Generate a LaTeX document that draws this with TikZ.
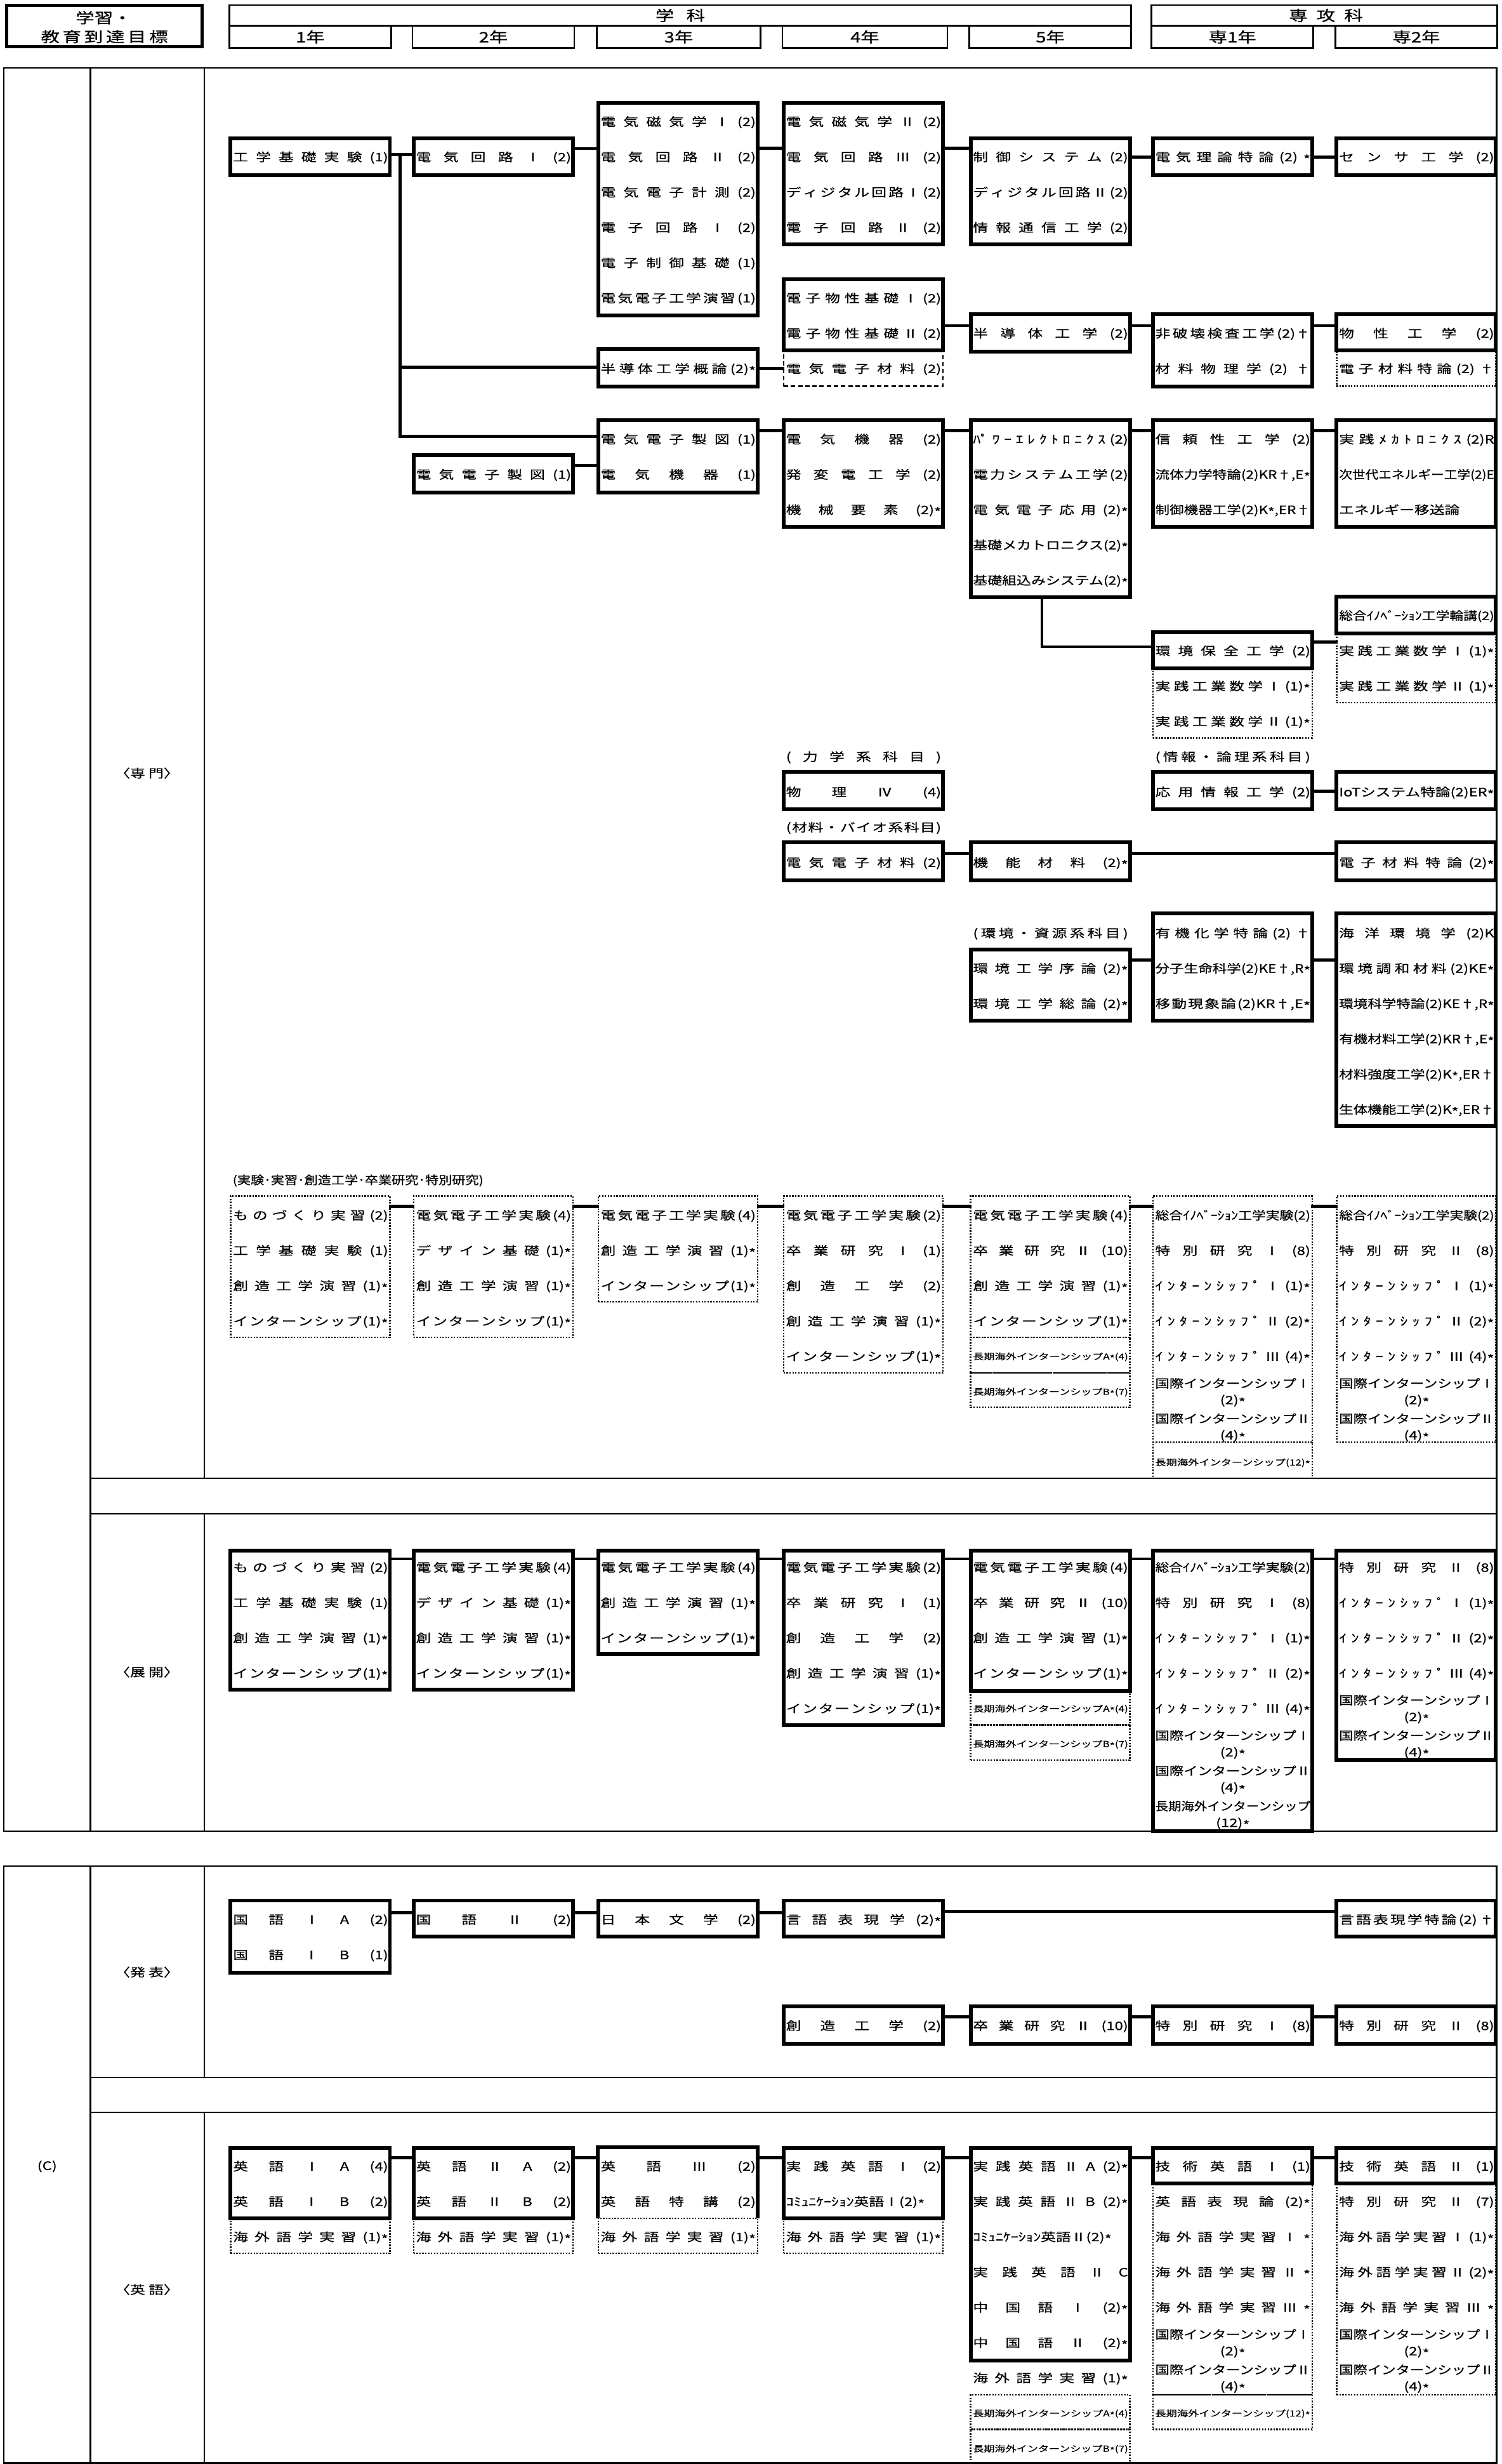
\documentclass[tikz,border=0pt]{standalone}
\usepackage{fontspec}
\usepackage{graphicx}
\setmainfont{Noto Sans CJK JP}[FakeStretch=1.3,FakeBold=0.6]
\usetikzlibrary{fit}
\newlength\labw
\setlength\labw{140.5pt}
\newcommand\bodyfont{\fontsize{10.5pt}{12pt}\selectfont}
\newcommand\hdrfont{\fontsize{13pt}{15pt}\selectfont}
\newcommand\fitto[2]{{\frenchspacing\spaceskip=0pt plus 1fil\relax\xspaceskip=0pt plus 1fil\relax
  \setbox0=\hbox{#2}\ifdim\wd0>#1\relax\resizebox{#1}{\height}{\copy0}\else\hbox to #1{#2}\fi}}
\newcommand\fitlab[1]{\fitto{\labw}{#1}}
\newcommand\Ln[1]{\hbox{\fitlab{#1}}}
\newcommand\Ls[1]{\hbox{\raisebox{1pt}{\fontsize{7.6pt}{9pt}\selectfont\fitlab{#1}}}}
\newcommand\Lt[2]{\hbox{\rlap{\raisebox{7.5pt}{\fitlab{#1}}}\raisebox{-7.5pt}{\hbox to \labw{\hfil #2\hfil}}}}
\newcommand\Rows[1]{\vtop{\baselineskip=31.94pt\lineskiplimit=-16000pt\lineskip=0pt\relax #1}}
\newcommand\CB[7]{\node[#1, fit={(#3+0.8,#4) (#3+102.2,#5)}] (#2) {};
  \node[txt] (#2t) at (#3+2.2,#6+2.8) {\Rows{#7}};}
\newcommand\HC[3]{\coordinate (hcy) at (0,#3); \draw[conn] (#1.east |- hcy) -- (#2.west |- hcy);}
\begingroup\catcode`\*=\active \gdef*{\raisebox{-0.38ex}{\char42}}\endgroup
\begin{document}
\catcode`\*=\active
\begin{tikzpicture}[x=0.05cm,y=-0.05cm,
  every node/.style={font=\bodyfont},
  sb/.style={draw, line width=3.4pt, inner sep=0pt},
  db/.style={draw, line width=1.3pt, dash pattern=on 1.3pt off 1.3pt, inner sep=0pt},
  dsb/.style={draw, line width=1.5pt, dash pattern=on 4pt off 2.5pt, inner sep=0pt},
  nb/.style={inner sep=0pt},
  hb/.style={draw, line width=1.6pt, inner sep=0pt},
  sbline/.style={line width=3.4pt},
  conn/.style={line width=2.8pt, line cap=rect},
  frm/.style={line width=1.4pt},
  txt/.style={inner sep=0pt, anchor=base west}]
\fill[white] (0,0) rectangle (956,1568);
\useasboundingbox (0,0) rectangle (956,1568);

% ---------------- header
\node[draw, line width=2.8pt, inner sep=0pt, fit={(4.2,3.6) (128.8,29.8)}] (goal) {};
\node[font=\hdrfont] (goalA) at (66,11.3) {学習・};
\node[font=\hdrfont] (goalB) at (66.5,23.3) {\fitto{115pt}{教 育 到 達 目 標}};
\node[hb, fit={(146,3.2) (720,16.5)}] (gk) {};
\node[font=\hdrfont] (gkt) at (433,9.8) {\fitto{45pt}{学 科}};
\node[hb, fit={(733,3.2) (953,16.5)}] (sk) {};
\node[font=\hdrfont] (skt) at (844,9.8) {\fitto{67pt}{専 攻 科}};
\node[hb, fit={(146,16.5) (249,30.5)}] (y1) {};
\node[hb, fit={(262.5,16.5) (365.5,30.5)}] (y2) {};
\node[hb, fit={(380,16.5) (484,30.5)}] (y3) {};
\node[hb, fit={(498,16.5) (603,30.5)}] (y4) {};
\node[hb, fit={(617,16.5) (720,30.5)}] (y5) {};
\node[hb, fit={(733,16.5) (836,30.5)}] (y6) {};
\node[hb, fit={(850,16.5) (953,30.5)}] (y7) {};
\node[font=\hdrfont] (y1t) at (y1) {1年};
\node[font=\hdrfont] (y2t) at (y2) {2年};
\node[font=\hdrfont] (y3t) at (y3) {3年};
\node[font=\hdrfont] (y4t) at (y4) {4年};
\node[font=\hdrfont] (y5t) at (y5) {5年};
\node[font=\hdrfont] (y6t) at (y6) {専1年};
\node[font=\hdrfont] (y7t) at (y7) {専2年};

% ---------------- frames
\draw[frm] (2.5,43.3) rectangle (952.7,1165.3);
\draw[frm] (57.5,43.3) -- (57.5,1165.3);
\draw[frm] (130,43.3) -- (130,940.6);
\draw[frm] (130,963.3) -- (130,1165.3);
\draw[frm] (57.5,940.6) -- (952.7,940.6);
\draw[frm] (57.5,963.3) -- (952.7,963.3);
\draw[frm] (2.5,1187.4) rectangle (952.7,1567.4);
\draw[frm] (57.5,1187.4) -- (57.5,1567.4);
\draw[frm] (130,1187.4) -- (130,1322);
\draw[frm] (130,1344.3) -- (130,1567.4);
\draw[frm] (57.5,1322) -- (952.7,1322);
\draw[frm] (57.5,1344.3) -- (952.7,1344.3);

\node (lsen) at (93.5,492) {〈専 門〉};
\node (lten) at (93.5,1064) {〈展 開〉};
\node (lhap) at (93.5,1255) {〈発 表〉};
\node (leig) at (93.5,1457) {〈英 語〉};
\node (lc) at (30,1378.6) {(C)};

% ---------------- 専門: main chain
\CB{sb}{A1}{146}{88}{111.4}{99.85}{\Ln{工 学 基 礎 実 験 (1)}}
\CB{sb}{A2}{262.5}{88}{111.4}{99.85}{\Ln{電 気 回 路 Ⅰ (2)}}
\CB{sb}{A3}{380}{65.5}{200.7}{77.4}{\Ln{電 気 磁 気 学 Ⅰ (2)}\Ln{電 気 回 路 Ⅱ (2)}\Ln{電 気 電 子 計 測 (2)}\Ln{電 子 回 路 Ⅰ (2)}\Ln{電 子 制 御 基 礎 (1)}\Ln{電 気 電 子 工 学 演 習 (1)}}
\CB{sb}{A4}{498}{65.5}{155.6}{77.4}{\Ln{電 気 磁 気 学 Ⅱ (2)}\Ln{電 気 回 路 Ⅲ (2)}\Ln{デ ィ ジ タ ル 回 路 Ⅰ (2)}\Ln{電 子 回 路 Ⅱ (2)}}
\CB{sb}{A5}{617}{88}{155.6}{99.85}{\Ln{制 御 シ ス テ ム (2)}\Ln{デ ィ ジ タ ル 回 路 Ⅱ (2)}\Ln{情 報 通 信 工 学 (2)}}
\CB{sb}{A6}{733}{88}{111.4}{99.85}{\Ln{電 気 理 論 特 論 (2) *}}
\CB{sb}{A7}{850}{88}{111.4}{99.85}{\Ln{セ ン サ 工 学 (2)}}

\CB{sb}{B3}{380}{222}{245.8}{234.55}{\Ln{半 導 体 工 学 概 論 (2)*}}
\CB{dsb}{B4d}{498}{222.8}{245.8}{234.55}{\Ln{電 気 電 子 材 料 (2)}}
\CB{sb}{B4}{498}{177.7}{222.8}{189.65}{\Ln{電 子 物 性 基 礎 Ⅰ (2)}\Ln{電 子 物 性 基 礎 Ⅱ (2)}}
\CB{sb}{B5}{617}{199.8}{223.6}{212.1}{\Ln{半 導 体 工 学 (2)}}
\CB{sb}{B6}{733}{199.8}{245.8}{212.1}{\Ln{非 破 壊 検 査 工 学 (2)†}\Ln{材 料 物 理 学 (2) †}}
\CB{db}{B7d}{850}{222.8}{245.8}{234.55}{\Ln{電 子 材 料 特 論 (2) †}}
\CB{sb}{B7}{850}{199.8}{222.8}{212.1}{\Ln{物 性 工 学 (2)}}

\CB{sb}{C2}{262.5}{289.7}{313.3}{301.9}{\Ln{電 気 電 子 製 図 (1)}}
\CB{sb}{C3}{380}{267.4}{313.3}{279.45}{\Ln{電 気 電 子 製 図 (1)}\Ln{電 気 機 器 (1)}}
\CB{sb}{C4}{498}{267.4}{335.4}{279.45}{\Ln{電 気 機 器 (2)}\Ln{発 変 電 工 学 (2)}\Ln{機 械 要 素 (2)*}}
\CB{sb}{C5}{617}{267.4}{380.2}{279.45}{\Ln{ﾊﾟ ﾜ ｰ ｴ ﾚ ｸ ﾄ ﾛ ﾆ ｸ ｽ (2)}\Ln{電 力 シ ス テ ム 工 学 (2)}\Ln{電 気 電 子 応 用 (2)*}\Ln{基礎メカトロニクス(2)*}\Ln{基礎組込みシステム(2)*}}
\CB{sb}{C6}{733}{267.4}{335.4}{279.45}{\Ln{信 頼 性 工 学 (2)}\Ln{流体力学特論(2)KR†,E*}\Ln{制御機器工学(2)K*,ER†}}
\CB{sb}{C7}{850}{267.4}{335.4}{279.45}{\Ln{実 践 ﾒ ｶ ﾄ ﾛ ﾆ ｸ ｽ (2)R}\Ln{次世代エネルギー工学(2)E}\Ln{エネルギー移送論}}

\CB{db}{D6d}{733}{425.3}{469.5}{436.6}{\Ln{実 践 工 業 数 学 Ⅰ (1)*}\Ln{実 践 工 業 数 学 Ⅱ (1)*}}
\CB{sb}{D6}{733}{402.3}{425.3}{414.15}{\Ln{環 境 保 全 工 学 (2)}}
\CB{db}{D7d}{850}{403.2}{447}{414.15}{\Ln{実 践 工 業 数 学 Ⅰ (1)*}\Ln{実 践 工 業 数 学 Ⅱ (1)*}}
\CB{sb}{D7}{850}{379.7}{403.2}{391.7}{\Ln{総合ｲﾉﾍﾞｰｼｮﾝ工学輪講(2)}}

\node[txt] (L1) at (500.2,484.3) {\fitlab{( 力 学 系 科 目 )}};
\CB{sb}{E4}{498}{491.2}{515}{503.95}{\Ln{物 理 Ⅳ (4)}}
\node[txt] (L2) at (735.2,484.3) {\fitlab{( 情 報 ・ 論 理 系 科 目 )}};
\CB{sb}{E6}{733}{491.2}{515}{503.95}{\Ln{応 用 情 報 工 学 (2)}}
\CB{sb}{E7}{850}{491.2}{515}{503.95}{\Ln{IoTシステム特論(2)ER*}}
\node[txt] (L3) at (500.2,529.2) {\fitlab{( 材 料 ・ バ イ オ 系 科 目 )}};
\CB{sb}{F4}{498}{536.1}{560.2}{548.85}{\Ln{電 気 電 子 材 料 (2)}}
\CB{sb}{F5}{617}{536.1}{560.2}{548.85}{\Ln{機 能 材 料 (2)*}}
\CB{sb}{F7}{850}{536.1}{560.2}{548.85}{\Ln{電 子 材 料 特 論 (2)*}}
\node[txt] (L4) at (619.2,596.55) {\fitlab{( 環 境 ・ 資 源 系 科 目 )}};
\CB{sb}{G5}{617}{604.2}{649.5}{616.2}{\Ln{環 境 工 学 序 論 (2)*}\Ln{環 境 工 学 総 論 (2)*}}
\CB{sb}{G6}{733}{581.4}{649.5}{593.75}{\Ln{有 機 化 学 特 論 (2) †}\Ln{分子生命科学(2)KE†,R*}\Ln{移 動 現 象 論 (2)KR†,E*}}
\CB{sb}{G7}{850}{581.4}{716.5}{593.75}{\Ln{海 洋 環 境 学 (2)K}\Ln{環 境 調 和 材 料 (2)KE*}\Ln{環境科学特論(2)KE†,R*}\Ln{有機材料工学(2)KR†,E*}\Ln{材料強度工学(2)K*,ER†}\Ln{生体機能工学(2)K*,ER†}}

\node[txt] (L5) at (148,753.65) {\fitto{227pt}{(実験･実習･創造工学･卒業研究･特別研究)}};

% ---------------- 専門: experiments (dotted)
\CB{db}{X1}{146}{761.2}{851}{773.3}{\Ln{も の づ く り 実 習 (2)}\Ln{工 学 基 礎 実 験 (1)}\Ln{創 造 工 学 演 習 (1)*}\Ln{イ ン タ ー ン シ ッ プ (1)*}}
\CB{db}{X2}{262.5}{761.2}{851}{773.3}{\Ln{電 気 電 子 工 学 実 験 (4)}\Ln{デ ザ イ ン 基 礎 (1)*}\Ln{創 造 工 学 演 習 (1)*}\Ln{イ ン タ ー ン シ ッ プ (1)*}}
\CB{db}{X3}{380}{761.2}{828.5}{773.3}{\Ln{電 気 電 子 工 学 実 験 (4)}\Ln{創 造 工 学 演 習 (1)*}\Ln{イ ン タ ー ン シ ッ プ (1)*}}
\CB{db}{X4}{498}{761.2}{873.6}{773.3}{\Ln{電 気 電 子 工 学 実 験 (2)}\Ln{卒 業 研 究 Ⅰ (1)}\Ln{創 造 工 学 (2)}\Ln{創 造 工 学 演 習 (1)*}\Ln{イ ン タ ー ン シ ッ プ (1)*}}
\CB{db}{X5}{617}{761.2}{851}{773.3}{\Ln{電 気 電 子 工 学 実 験 (4)}\Ln{卒 業 研 究 Ⅱ (10)}\Ln{創 造 工 学 演 習 (1)*}\Ln{イ ン タ ー ン シ ッ プ (1)*}}
\CB{db}{X5a}{617}{851}{873.6}{863.1}{\Ls{長期海外インターンシップA*(4)}}
\CB{db}{X5b}{617}{873.6}{895.6}{885.55}{\Ls{長期海外インターンシップB*(7)}}
\CB{db}{X6}{733}{761.2}{917.8}{773.3}{\Ln{総合ｲﾉﾍﾞｰｼｮﾝ工学実験(2)}\Ln{特 別 研 究 Ⅰ (8)}\Ln{ｲ ﾝ ﾀ ｰ ﾝ ｼ ｯ ﾌ ﾟ Ⅰ (1)*}\Ln{ｲ ﾝ ﾀ ｰ ﾝ ｼ ｯ ﾌ ﾟ Ⅱ (2)*}\Ln{ｲ ﾝ ﾀ ｰ ﾝ ｼ ｯ ﾌ ﾟ Ⅲ (4)*}\Lt{国際インターンシップⅠ}{(2)*}\Lt{国際インターンシップⅡ}{(4)*}}
\CB{db}{X6a}{733}{917.8}{940.6}{930.45}{\Ls{長期海外インターンシップ(12)*}}
\CB{db}{X7}{850}{761.2}{917.8}{773.3}{\Ln{総合ｲﾉﾍﾞｰｼｮﾝ工学実験(2)}\Ln{特 別 研 究 Ⅱ (8)}\Ln{ｲ ﾝ ﾀ ｰ ﾝ ｼ ｯ ﾌ ﾟ Ⅰ (1)*}\Ln{ｲ ﾝ ﾀ ｰ ﾝ ｼ ｯ ﾌ ﾟ Ⅱ (2)*}\Ln{ｲ ﾝ ﾀ ｰ ﾝ ｼ ｯ ﾌ ﾟ Ⅲ (4)*}\Lt{国際インターンシップⅠ}{(2)*}\Lt{国際インターンシップⅡ}{(4)*}}

% ---------------- 展開
\CB{sb}{Y1}{146}{986.6}{1075.2}{997.4}{\Ln{も の づ く り 実 習 (2)}\Ln{工 学 基 礎 実 験 (1)}\Ln{創 造 工 学 演 習 (1)*}\Ln{イ ン タ ー ン シ ッ プ (1)*}}
\CB{sb}{Y2}{262.5}{986.6}{1075.2}{997.4}{\Ln{電 気 電 子 工 学 実 験 (4)}\Ln{デ ザ イ ン 基 礎 (1)*}\Ln{創 造 工 学 演 習 (1)*}\Ln{イ ン タ ー ン シ ッ プ (1)*}}
\CB{sb}{Y3}{380}{986.6}{1052.7}{997.4}{\Ln{電 気 電 子 工 学 実 験 (4)}\Ln{創 造 工 学 演 習 (1)*}\Ln{イ ン タ ー ン シ ッ プ (1)*}}
\CB{sb}{Y4}{498}{986.6}{1098}{997.4}{\Ln{電 気 電 子 工 学 実 験 (2)}\Ln{卒 業 研 究 Ⅰ (1)}\Ln{創 造 工 学 (2)}\Ln{創 造 工 学 演 習 (1)*}\Ln{イ ン タ ー ン シ ッ プ (1)*}}
\CB{db}{Y5a}{617}{1076}{1097.6}{1087.2}{\Ls{長期海外インターンシップA*(4)}}
\CB{db}{Y5b}{617}{1097.6}{1120}{1109.65}{\Ls{長期海外インターンシップB*(7)}}
\CB{sb}{Y5}{617}{986.6}{1076}{997.4}{\Ln{電 気 電 子 工 学 実 験 (4)}\Ln{卒 業 研 究 Ⅱ (10)}\Ln{創 造 工 学 演 習 (1)*}\Ln{イ ン タ ー ン シ ッ プ (1)*}}
\CB{sb}{Y6}{733}{986.6}{1165.3}{997.4}{\Ln{総合ｲﾉﾍﾞｰｼｮﾝ工学実験(2)}\Ln{特 別 研 究 Ⅰ (8)}\Ln{ｲ ﾝ ﾀ ｰ ﾝ ｼ ｯ ﾌ ﾟ Ⅰ (1)*}\Ln{ｲ ﾝ ﾀ ｰ ﾝ ｼ ｯ ﾌ ﾟ Ⅱ (2)*}\Ln{ｲ ﾝ ﾀ ｰ ﾝ ｼ ｯ ﾌ ﾟ Ⅲ (4)*}\Lt{国際インターンシップⅠ}{(2)*}\Lt{国際インターンシップⅡ}{(4)*}\Lt{長期海外インターンシップ}{(12)*}}
\CB{sb}{Y7}{850}{986.6}{1120}{997.4}{\Ln{特 別 研 究 Ⅱ (8)}\Ln{ｲ ﾝ ﾀ ｰ ﾝ ｼ ｯ ﾌ ﾟ Ⅰ (1)*}\Ln{ｲ ﾝ ﾀ ｰ ﾝ ｼ ｯ ﾌ ﾟ Ⅱ (2)*}\Ln{ｲ ﾝ ﾀ ｰ ﾝ ｼ ｯ ﾌ ﾟ Ⅲ (4)*}\Lt{国際インターンシップⅠ}{(2)*}\Lt{国際インターンシップⅡ}{(4)*}}

% ---------------- 発表
\CB{sb}{P1}{146}{1209.5}{1255.4}{1221.5}{\Ln{国 語 Ⅰ A (2)}\Ln{国 語 Ⅰ B (1)}}
\CB{sb}{P2}{262.5}{1209.5}{1232.5}{1221.5}{\Ln{国 語 Ⅱ (2)}}
\CB{sb}{P3}{380}{1209.5}{1232.5}{1221.5}{\Ln{日 本 文 学 (2)}}
\CB{sb}{P4}{498}{1209.5}{1232.5}{1221.5}{\Ln{言 語 表 現 学 (2)*}}
\CB{sb}{P7}{850}{1209.5}{1232.5}{1221.5}{\Ln{言 語 表 現 学 特 論 (2) †}}
\CB{sb}{Q4}{498}{1276.8}{1300.5}{1289}{\Ln{創 造 工 学 (2)}}
\CB{sb}{Q5}{617}{1276.8}{1300.5}{1289}{\Ln{卒 業 研 究 Ⅱ (10)}}
\CB{sb}{Q6}{733}{1276.8}{1300.5}{1289}{\Ln{特 別 研 究 Ⅰ (8)}}
\CB{sb}{Q7}{850}{1276.8}{1300.5}{1289}{\Ln{特 別 研 究 Ⅱ (8)}}

% ---------------- 英語
\CB{db}{Z1d}{146}{1411.6}{1433.9}{1423.4}{\Ln{海 外 語 学 実 習 (1)*}}
\CB{sb}{Z1}{146}{1366.7}{1411.6}{1378.5}{\Ln{英 語 Ⅰ A (4)}\Ln{英 語 Ⅰ B (2)}}
\CB{db}{Z2d}{262.5}{1411.6}{1433.9}{1423.4}{\Ln{海 外 語 学 実 習 (1)*}}
\CB{sb}{Z2}{262.5}{1366.7}{1411.6}{1378.5}{\Ln{英 語 Ⅱ A (2)}\Ln{英 語 Ⅱ B (2)}}
\CB{db}{Z3d}{380}{1411.6}{1433.9}{1423.4}{\Ln{海 外 語 学 実 習 (1)*}}
\CB{nb}{Z3}{380}{1366.7}{1411.6}{1378.5}{\Ln{英 語 Ⅲ (2)}\Ln{英 語 特 講 (2)}}
\draw[sbline] (Z3.south west) -- (Z3.north west) -- (Z3.north east) -- (Z3.south east);
\CB{db}{Z4d}{498}{1411.6}{1433.9}{1423.4}{\Ln{海 外 語 学 実 習 (1)*}}
\CB{sb}{Z4}{498}{1366.7}{1411.6}{1378.5}{\Ln{実 践 英 語 Ⅰ (2)}\Ln{ｺﾐｭﾆｹｰｼｮﾝ英語Ⅰ(2)*}}
\CB{sb}{Z5}{617}{1366.7}{1502}{1378.5}{\Ln{実 践 英 語 Ⅱ A (2)*}\Ln{実 践 英 語 Ⅱ B (2)*}\Ln{ｺﾐｭﾆｹｰｼｮﾝ英語Ⅱ(2)*}\Ln{実 践 英 語 Ⅱ C}\Ln{中 国 語 Ⅰ (2)*}\Ln{中 国 語 Ⅱ (2)*}}
\node[txt] (Z5x) at (619.2,1516) {\fitlab{海 外 語 学 実 習 (1)*}};
\CB{db}{Z5a}{617}{1524}{1546}{1535.65}{\Ls{長期海外インターンシップA*(4)}}
\CB{db}{Z5b}{617}{1546}{1567.5}{1558.1}{\Ls{長期海外インターンシップB*(7)}}
\CB{db}{Z6d}{733}{1389.3}{1524}{1400.95}{\Ln{英 語 表 現 論 (2)*}\Ln{海 外 語 学 実 習 Ⅰ *}\Ln{海 外 語 学 実 習 Ⅱ *}\Ln{海 外 語 学 実 習 Ⅲ *}\Lt{国際インターンシップⅠ}{(2)*}\Lt{国際インターンシップⅡ}{(4)*}}
\CB{db}{Z6a}{733}{1524}{1546}{1535.65}{\Ls{長期海外インターンシップ(12)*}}
\CB{sb}{Z6}{733}{1366.7}{1389.3}{1378.5}{\Ln{技 術 英 語 Ⅰ (1)}}
\CB{db}{Z7d}{850}{1389.3}{1524}{1400.95}{\Ln{特 別 研 究 Ⅱ (7)}\Ln{海 外 語 学 実 習 Ⅰ (1)*}\Ln{海 外 語 学 実 習 Ⅱ (2)*}\Ln{海 外 語 学 実 習 Ⅲ *}\Lt{国際インターンシップⅠ}{(2)*}\Lt{国際インターンシップⅡ}{(4)*}}
\CB{sb}{Z7}{850}{1366.7}{1389.3}{1378.5}{\Ln{技 術 英 語 Ⅱ (1)}}

% ---------------- connectors
\HC{A1}{A2}{98.5}
\HC{A2}{A3}{94.5}
\HC{A3}{A4}{94.4}
\HC{A4}{A5}{94.4}
\HC{A5}{A6}{100}
\HC{A6}{A7}{100}
\coordinate (jA) at (254.5,98.5);
\coordinate (hB) at (0,233.8);
\coordinate (hCc) at (0,277.6);
\draw[conn] (jA) |- (B3.west |- hB);
\draw[conn] (jA) |- (C3.west |- hCc);
\HC{B3}{B4d}{234.4}
\HC{B4}{B5}{207.2}
\HC{B5}{B6}{207.2}
\HC{B6}{B7}{207.2}
\HC{C2}{C3}{296.3}
\HC{C3}{C4}{273.9}
\HC{C4}{C5}{273.9}
\HC{C5}{C6}{273.9}
\HC{C6}{C7}{273.9}
\coordinate (jD) at (663.2,380.2);
\coordinate (hD) at (0,411.6);
\draw[conn] (C5.south -| jD) |- (D6.west |- hD);
\HC{D6}{D7d}{408.5}
\HC{E6}{E7}{503.5}
\HC{F4}{F5}{543}
\HC{F5}{F7}{543}
\HC{G5}{G6}{611}
\HC{G6}{G7}{611}
\HC{X1}{X2}{767.5}
\HC{X2}{X3}{767.5}
\HC{X3}{X4}{767.5}
\HC{X4}{X5}{767.5}
\HC{X5}{X6}{767.5}
\HC{X6}{X7}{767.5}
\HC{Y1}{Y2}{992}
\HC{Y2}{Y3}{992}
\HC{Y3}{Y4}{992}
\HC{Y4}{Y5}{992}
\HC{Y5}{Y6}{992}
\HC{Y6}{Y7}{992}
\HC{P1}{P2}{1217.2}
\HC{P2}{P3}{1217.2}
\HC{P3}{P4}{1217.2}
\HC{P4}{P7}{1216.3}
\HC{Q4}{Q5}{1283.5}
\HC{Q5}{Q6}{1283.5}
\HC{Q6}{Q7}{1283.5}
\HC{Z1}{Z2}{1373}
\HC{Z2}{Z3}{1373}
\HC{Z3}{Z4}{1373}
\HC{Z4}{Z5}{1373}
\HC{Z5}{Z6}{1373}
\HC{Z6}{Z7}{1373}
\end{tikzpicture}
\end{document}
